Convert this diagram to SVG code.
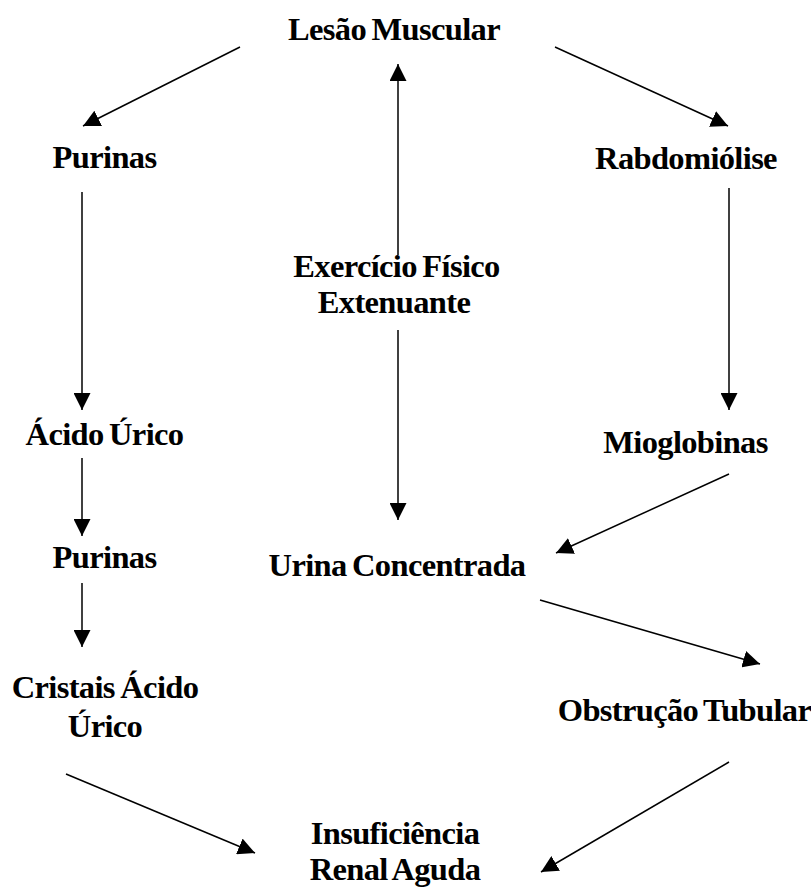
<svg xmlns="http://www.w3.org/2000/svg" width="811" height="888" viewBox="0 0 811 888">
<style>
  text { font-family: "Liberation Serif", "Times New Roman", serif; font-weight: bold; font-size: 32.5px; letter-spacing: -0.65px; word-spacing: -2px; fill: #000; text-anchor: middle; }
  .edge { stroke: #000; stroke-width: 1.5; fill: none; marker-end: url(#ah); }
</style>
<defs>
  <marker id="ah" markerUnits="userSpaceOnUse" markerWidth="17" markerHeight="17" refX="16" refY="8" orient="auto" viewBox="0 0 16 16">
    <path d="M0,0 L16,8 L0,16 z" fill="#000"/>
  </marker>
</defs>
<rect width="811" height="888" fill="#fff"/>
<g id="connectors">
  <line class="edge" x1="240" y1="47" x2="83" y2="126"/>
  <line class="edge" x1="555" y1="47" x2="728" y2="126"/>
  <line class="edge" x1="398" y1="255" x2="398" y2="64"/>
  <line class="edge" x1="398" y1="330" x2="398" y2="520"/>
  <line class="edge" x1="82" y1="192" x2="82" y2="410"/>
  <line class="edge" x1="82" y1="458" x2="82" y2="536"/>
  <line class="edge" x1="82" y1="583" x2="82" y2="647"/>
  <line class="edge" x1="729" y1="188" x2="729" y2="410"/>
  <line class="edge" x1="729" y1="474" x2="556" y2="553"/>
  <line class="edge" x1="540" y1="600" x2="760" y2="664"/>
  <line class="edge" x1="66" y1="774" x2="255" y2="853"/>
  <line class="edge" x1="729" y1="762" x2="541" y2="872"/>
</g>
<g id="lesao"><text x="394" y="40">Lesão Muscular</text></g>
<g id="purinas1"><text x="104.5" y="168">Purinas</text></g>
<g id="rabdo"><text x="686" y="169">Rabdomiólise</text></g>
<g id="exercicio"><text x="396.5" y="277">Exercício Físico</text><text x="394" y="313">Extenuante</text></g>
<g id="acido"><text x="104.5" y="445">Ácido Úrico</text></g>
<g id="mioglobinas"><text x="685.5" y="453">Mioglobinas</text></g>
<g id="purinas2"><text x="104.5" y="568">Purinas</text></g>
<g id="urina"><text x="397" y="576">Urina Concentrada</text></g>
<g id="cristais"><text x="105" y="698">Cristais Ácido</text><text x="105" y="737">Úrico</text></g>
<g id="obstrucao"><text x="684.5" y="721">Obstrução Tubular</text></g>
<g id="insuficiencia"><text x="395" y="844">Insuficiência</text><text x="395" y="880">Renal Aguda</text></g>
</svg>
